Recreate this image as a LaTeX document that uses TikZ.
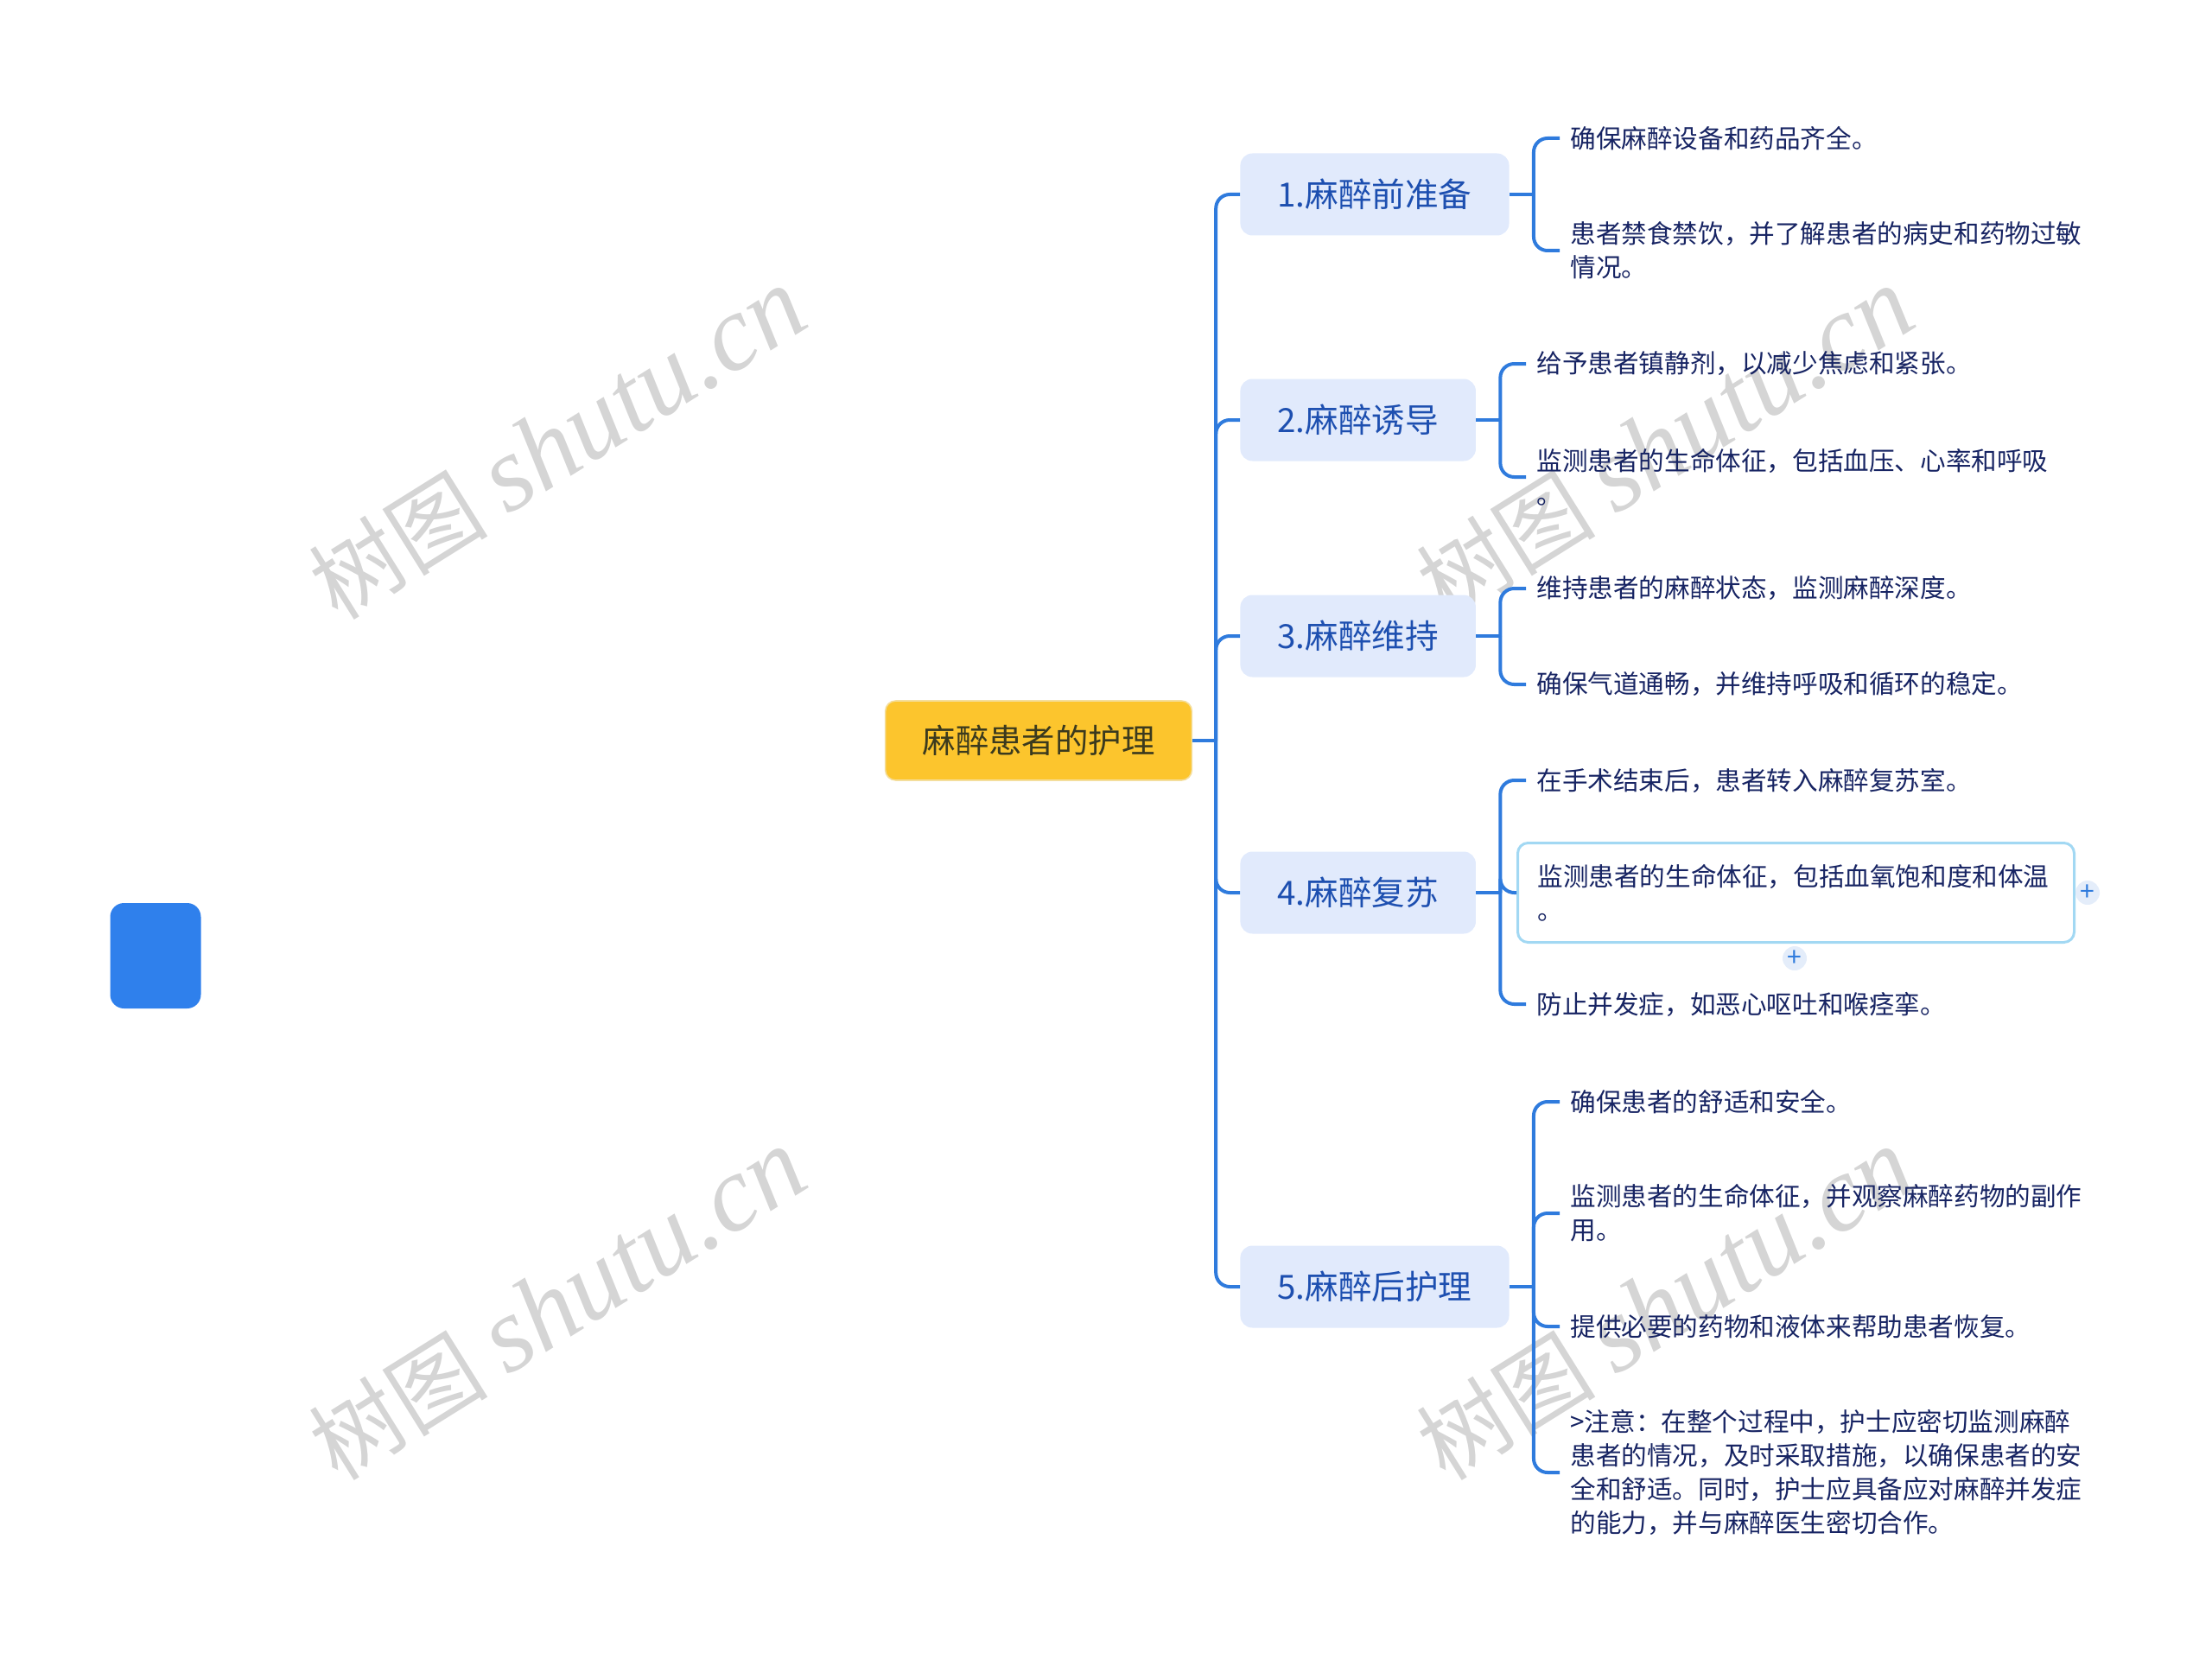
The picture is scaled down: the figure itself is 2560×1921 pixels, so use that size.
\documentclass[tikz,border=0pt]{standalone}
\usepackage{fontspec}
\setmainfont{Noto Sans CJK SC}
\newfontfamily\wmlatin{Liberation Serif}
\usetikzlibrary{positioning}
\definecolor{linkblue}{HTML}{2F7BDD}
\definecolor{topicfill}{HTML}{E1EAFC}
\definecolor{topictext}{HTML}{1D4FB0}
\definecolor{leaftext}{HTML}{172463}
\definecolor{rootfill}{HTML}{FCC52D}
\definecolor{rootline}{HTML}{F4DE9C}
\definecolor{roottext}{HTML}{3B3A1E}
\definecolor{selline}{HTML}{A2D8F3}
\definecolor{tabblue}{HTML}{2F80EC}
\definecolor{expfill}{HTML}{E4EDFA}

\begin{document}
\begin{tikzpicture}[
x=0.5pt,y=-0.5pt,
root/.style={
  draw=rootline,
  line width=0.8pt,
  fill=rootfill,
  rounded corners=6pt,
  minimum height=46pt,
  inner xsep=21.5pt,
  text=roottext,
  font=\fontsize{19.2}{22}\selectfont
  },
topic/.style={
  anchor=west,
  fill=topicfill,
  rounded corners=7pt,
  minimum height=47.5pt,
  inner xsep=21.5pt,
  text=topictext,
  font=\fontsize{19.3}{22}\selectfont
  },
leaf/.style={
  anchor=west,
  align=left,
  inner xsep=6pt,
  inner ysep=2pt,
  text=leaftext,
  font=\fontsize{14.8}{19.5}\selectfont
  },
picked/.style={
  leaf,
  draw=selline,
  line width=1.5pt,
  rounded corners=6pt,
  inner xsep=11.5pt,
  text width=299pt,
  minimum height=57.5pt
  },
expander/.style={
  circle,
  fill=expfill,
  minimum size=14pt,
  inner sep=0pt,
  text=linkblue,
  font=\fontsize{15}{15}\selectfont
  },
wmtext/.style={
  rotate=32,
  text=gray!33,
  font=\fontsize{52}{52}\selectfont
  },
link/.style={
  draw=linkblue,
  line width=2pt,
  rounded corners=8pt
  }
]
\useasboundingbox (0,0) rectangle (2560,1921);

\foreach \wx/\wy [count=\wi] in {645/514,1927/514,645/1510,1927/1510}
  \node[wmtext] (wm\wi) at (\wx,\wy) {树图 {\wmlatin\itshape\fontsize{62}{62}\selectfont shutu.cn}};

\node[fill=tabblue,rounded corners=8pt,minimum width=52.5pt,minimum height=61pt] (tab) at (180,1106) {};

\node[root] (root) at (1202,857) {麻醉患者的护理};

\node[topic] (t1) at (1435,225) {1.麻醉前准备};
\node[topic] (t2) at (1435,486) {2.麻醉诱导};
\node[topic] (t3) at (1435,736) {3.麻醉维持};
\node[topic] (t4) at (1435,1033) {4.麻醉复苏};
\node[topic] (t5) at (1435,1489) {5.麻醉后护理};

\node[leaf] (l11) at (1805,160) {确保麻醉设备和药品齐全。};
\node[leaf] (l12) at (1805,290) {患者禁食禁饮，并了解患者的病史和药物过敏\\情况。};
\node[leaf] (l21) at (1766,421) {给予患者镇静剂，以减少焦虑和紧张。};
\node[leaf] (l22) at (1766,552) {监测患者的生命体征，包括血压、心率和呼吸\\。};
\node[leaf] (l31) at (1766,681) {维持患者的麻醉状态，监测麻醉深度。};
\node[leaf] (l32) at (1766,792) {确保气道通畅，并维持呼吸和循环的稳定。};
\node[leaf] (l41) at (1766,903) {在手术结束后，患者转入麻醉复苏室。};
\node[picked] (l42) at (1755,1033) {监测患者的生命体征，包括血氧饱和度和体温\\。};
\node[leaf] (l43) at (1766,1162) {防止并发症，如恶心呕吐和喉痉挛。};
\node[leaf] (l51) at (1805,1275) {确保患者的舒适和安全。};
\node[leaf] (l52) at (1805,1404) {监测患者的生命体征，并观察麻醉药物的副作\\用。};
\node[leaf] (l53) at (1805,1535) {提供必要的药物和液体来帮助患者恢复。};
\node[leaf] (l54) at (1805,1704) {>注意：在整个过程中，护士应密切监测麻醉\\患者的情况，及时采取措施，以确保患者的安\\全和舒适。同时，护士应具备应对麻醉并发症\\的能力，并与麻醉医生密切合作。};

\node[expander] (e1) at (2416,1033) {+};
\node[expander] (e2) at (2077,1109) {+};

\draw[link] (root.east) -- ++(27,0) coordinate (hub);
\foreach \t in {t1,t2,t3,t4,t5}
  \draw[link] (hub) |- (\t.west);
\foreach \t/\kids in {t1/{l11,l12},t2/{l21,l22},t3/{l31,l32},t4/{l41,l42,l43},t5/{l51,l52,l53,l54}}
{\draw[link] (\t.east) -- ++(28,0) coordinate (\t-hub);
 \foreach \k in \kids
  \draw[link] (\t-hub) |- (\k.west);
}
\end{tikzpicture}
\end{document}
